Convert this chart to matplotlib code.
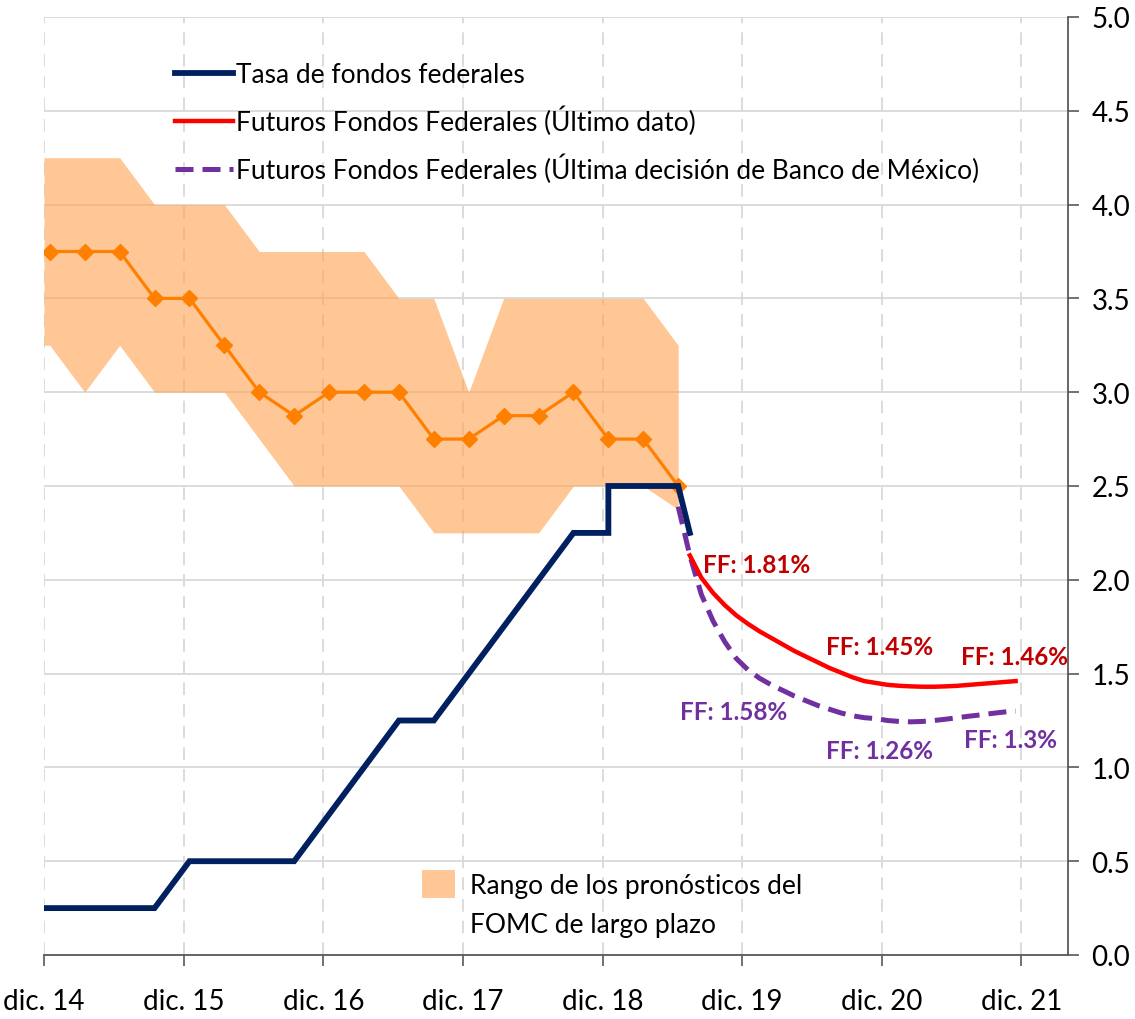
import numpy as np
import matplotlib
matplotlib.use("Agg")
import matplotlib.pyplot as plt
from matplotlib.lines import Line2D
from matplotlib.patches import Patch

plt.rcParams['font.family'] = ['Lato', 'DejaVu Sans']

# Horizontal positions are months counted from December 2014
year_ticks = [0, 12, 24, 36, 48, 60, 72, 84]
year_labels = ['dic. 14', 'dic. 15', 'dic. 16', 'dic. 17',
               'dic. 18', 'dic. 19', 'dic. 20', 'dic. 21']

# Federal funds target rate (upper bound, %)
ff_month = [0, 9.5, 12.5, 21.5, 24.5, 27.5, 30.5, 33.5, 36.5, 39.5,
            42.5, 45.5, 48.5, 48.5, 54.5, 55.5]
ff_rate = [0.25, 0.25, 0.50, 0.50, 0.75, 1.00, 1.25, 1.25, 1.50, 1.75,
           2.00, 2.25, 2.25, 2.50, 2.50, 2.25]

# FOMC long-run projections: median and range
fomc_month = [0.5, 3.5, 6.5, 9.5, 12.5, 15.5, 18.5, 21.5, 24.5, 27.5,
              30.5, 33.5, 36.5, 39.5, 42.5, 45.5, 48.5, 51.5, 54.5]
fomc_median = [3.75, 3.75, 3.75, 3.50, 3.50, 3.25, 3.00, 2.875, 3.00, 3.00,
               3.00, 2.75, 2.75, 2.875, 2.875, 3.00, 2.75, 2.75, 2.50]
fomc_high = [4.25, 4.25, 4.25, 4.00, 4.00, 4.00, 3.75, 3.75, 3.75, 3.75,
             3.50, 3.50, 3.00, 3.50, 3.50, 3.50, 3.50, 3.50, 3.25]
fomc_low = [3.25, 3.00, 3.25, 3.00, 3.00, 3.00, 2.75, 2.50, 2.50, 2.50,
            2.50, 2.25, 2.25, 2.25, 2.25, 2.50, 2.50, 2.50, 2.375]

# Fed funds futures, latest data
fut_last_month = [55.5, 56.5, 57.5, 58.5, 59.5, 60.5, 61.5, 62.5, 63.5, 64.5,
                  65.5, 66.5, 67.5, 68.5, 69.5, 70.5, 71.5, 72.5, 73.5, 74.5,
                  75.5, 76.5, 77.5, 78.5, 79.5, 80.5, 81.5, 82.5, 83.5]
fut_last = [2.13, 2.01, 1.93, 1.865, 1.81, 1.765, 1.725, 1.69, 1.655, 1.62,
            1.59, 1.56, 1.53, 1.505, 1.48, 1.46, 1.45, 1.44, 1.435, 1.432,
            1.43, 1.43, 1.432, 1.435, 1.44, 1.445, 1.45, 1.455, 1.46]

# Fed funds futures at Banco de México's last decision
fut_bx_month = [54.5, 55.5, 56.5, 57.5, 58.5, 59.5, 60.5, 61.5, 62.5, 63.5,
                64.5, 65.5, 66.5, 67.5, 68.5, 69.5, 70.5, 71.5, 72.5, 73.5,
                74.5, 75.5, 76.5, 77.5, 78.5, 79.5, 80.5, 81.5, 82.5, 83.5]
fut_bx = [2.39, 2.13, 1.92, 1.78, 1.67, 1.58, 1.52, 1.475, 1.44, 1.41,
          1.38, 1.355, 1.33, 1.31, 1.29, 1.275, 1.265, 1.26, 1.25, 1.245,
          1.243, 1.245, 1.25, 1.257, 1.265, 1.273, 1.28, 1.288, 1.295, 1.30]

# December contracts that carry a value label
label_months = [59.5, 71.5, 83.5]

NAVY = '#002060'
RED = '#FF0000'
DARK_RED = '#C00000'
PURPLE = '#7030A0'
ORANGE = '#FF8000'
GRID = '#D9D9D9'
AXIS = '#595959'
PURPLE_DASH = (0, (3.6, 1.8))

fig = plt.figure(figsize=(11.35, 10.2), dpi=100)
ax = fig.add_axes([44 / 1135, 64 / 1020, 1024 / 1135, 938 / 1020])

ax.set_xlim(0, 88)
ax.set_ylim(0, 5)

# grid
ax.set_yticks(np.arange(0, 5.01, 0.5))
ax.set_xticks(year_ticks)
ax.set_xticklabels(year_labels)
ax.yaxis.grid(True, color=GRID, lw=1.3, zorder=0)
ax.xaxis.grid(True, color=GRID, lw=1.3, ls=(0, (7, 5)), zorder=0)
ax.set_axisbelow(True)

# FOMC range band
band_x = np.r_[0, fomc_month]
ax.fill_between(band_x, np.r_[fomc_low[0], fomc_low], np.r_[fomc_high[0], fomc_high],
                color=(1.0, 0.64, 0.31), alpha=0.6, lw=0, zorder=1)
ax.plot(fomc_month, fomc_median, color=ORANGE, lw=2.3, marker='D', ms=8,
        mec=ORANGE, mfc=ORANGE, zorder=3)

# federal funds rate
ax.plot(ff_month, ff_rate, color=NAVY, lw=4.2, solid_joinstyle='miter', zorder=4)

# futures
ax.plot(fut_bx_month, fut_bx, color=PURPLE, lw=3.6, ls=PURPLE_DASH,
        dash_capstyle='butt', zorder=4)
ax.plot(fut_last_month, fut_last, color=RED, lw=3.2, zorder=5)

# value labels
red_offsets = [(20, 51), (4, 36), (-1, 25)]
purple_offsets = [(-3, -53), (4, -32), (-5, -28)]
for m, (dx, dy) in zip(label_months, red_offsets):
    v = fut_last[fut_last_month.index(m)]
    ax.annotate(f'FF: {v:g}%', xy=(m, v), xytext=(dx, dy), textcoords='offset pixels',
                ha='center', va='center', color=DARK_RED, fontsize=17.5,
                fontweight='bold', zorder=6)
for m, (dx, dy) in zip(label_months, purple_offsets):
    v = fut_bx[fut_bx_month.index(m)]
    ax.annotate(f'FF: {v:g}%', xy=(m, v), xytext=(dx, dy), textcoords='offset pixels',
                ha='center', va='center', color=PURPLE, fontsize=17.5,
                fontweight='bold', zorder=6)

# axes styling
for s in ('left', 'top'):
    ax.spines[s].set_visible(False)
for s in ('right', 'bottom'):
    ax.spines[s].set_color(AXIS)
    ax.spines[s].set_linewidth(1.3)
ax.yaxis.tick_right()
ax.set_yticklabels([f'{v:.1f}' for v in np.arange(0, 5.01, 0.5)])
ax.tick_params(axis='y', which='both', direction='out', length=8, width=1.2,
               color=AXIS, pad=9, labelsize=20, labelcolor='black')
ax.tick_params(axis='x', which='both', direction='out', length=8, width=1.2,
               color=AXIS, pad=16, labelsize=20, labelcolor='black')

# legends
handles = [Line2D([], [], color=NAVY, lw=4.2),
           Line2D([], [], color=RED, lw=3.2),
           Line2D([], [], color=PURPLE, lw=3.6, ls=PURPLE_DASH)]
labels = ['Tasa de fondos federales',
          'Futuros Fondos Federales (Último dato)',
          'Futuros Fondos Federales (Última decisión de Banco de México)']
leg1 = ax.legend(handles, labels, loc='upper left',
                 bbox_to_anchor=(175 / 1135, (1020 - 63) / 1020),
                 bbox_transform=fig.transFigure, frameon=False, fontsize=19,
                 handlelength=2.2, handletextpad=0.1, labelspacing=0.7,
                 borderpad=0, borderaxespad=0)
ax.add_artist(leg1)

leg2 = ax.legend([Patch(facecolor=(1.0, 0.78, 0.59), edgecolor='none')],
                 ['Rango de los pronósticos del'],
                 loc='upper left', bbox_to_anchor=(422 / 1135, (1020 - 871) / 1020),
                 bbox_transform=fig.transFigure, frameon=False, fontsize=19,
                 handlelength=1.25, handleheight=1.25, handletextpad=0.55,
                 borderpad=0, borderaxespad=0)
fig.text(470 / 1135, (1020 - 926) / 1020, 'FOMC de largo plazo',
         ha='left', va='center', fontsize=19)

fig.savefig('out.png', dpi=100)
